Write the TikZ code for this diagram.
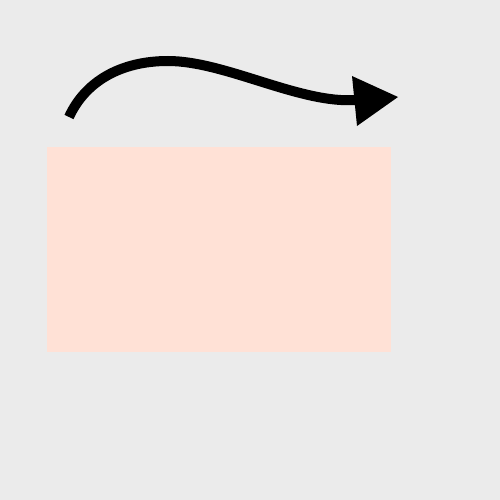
\documentclass[tikz,border=0pt]{standalone}
\begin{document}
\begin{tikzpicture}[x=1pt,y=-1pt]
\definecolor{bg}{HTML}{EBEBEB}
\definecolor{salmon}{HTML}{FFE1D6}
\fill[bg] (0,0) rectangle (500,500);
\useasboundingbox (0,0) rectangle (500,500);
\fill[salmon] (47,147) rectangle (391,352);
\draw[line width=10pt] (69,117) .. controls (85,82) and (120,61) .. (168,61)
  .. controls (225,61) and (300,104) .. (356,100);
\fill (352,76) -- (398,97) -- (357,126) -- cycle;
\end{tikzpicture}
\end{document}
